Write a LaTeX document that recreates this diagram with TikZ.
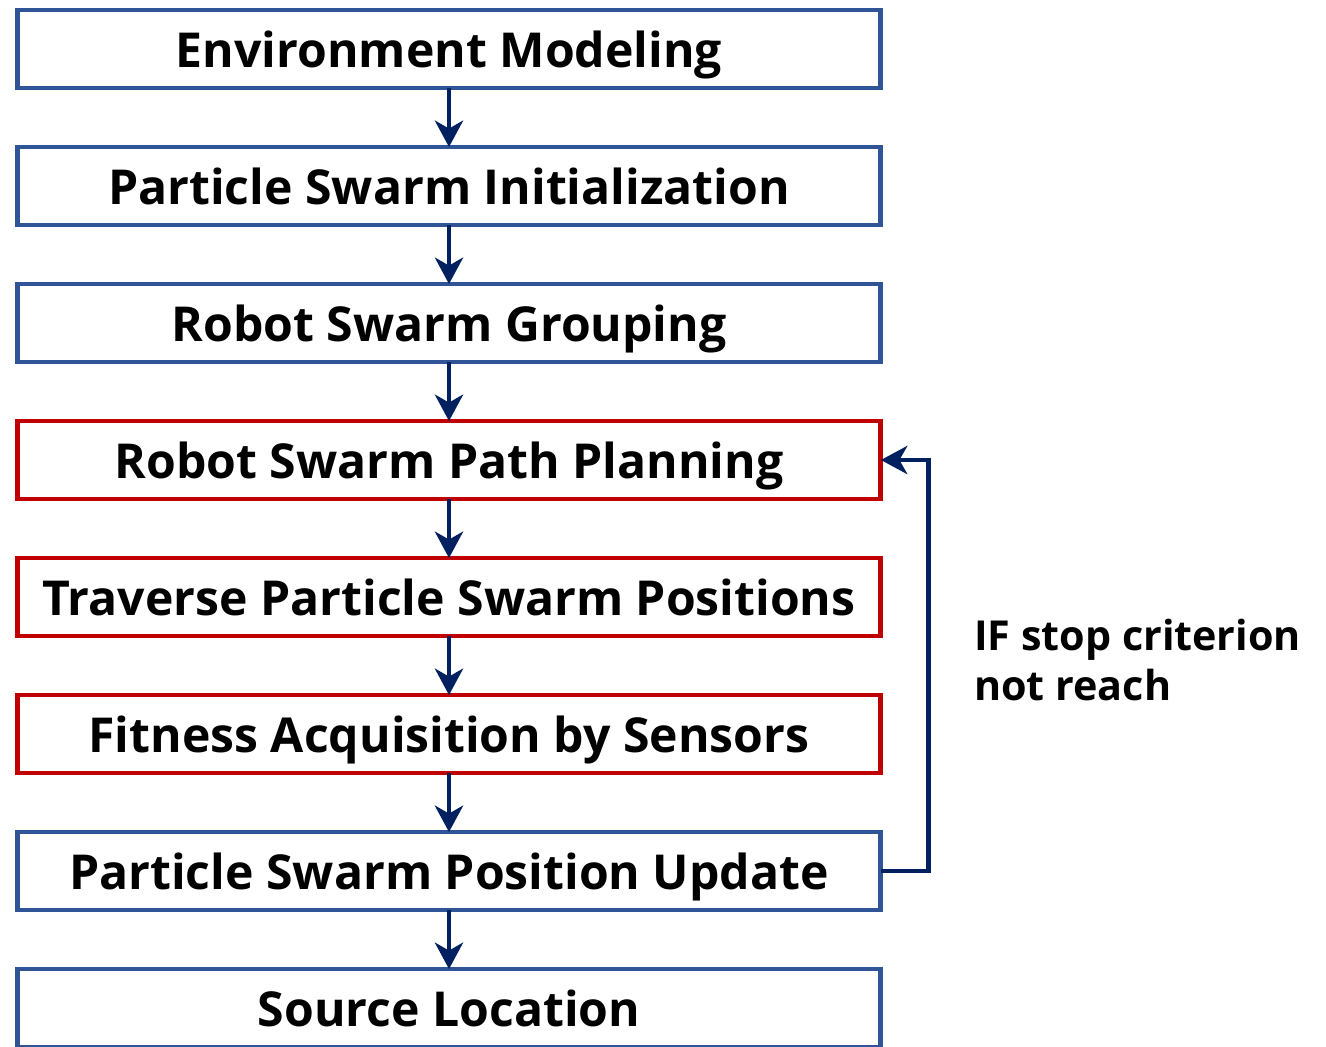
\documentclass[tikz,border=0pt]{standalone}
\usepackage{fontspec}
\setmainfont{Open Sans}
\usetikzlibrary{arrows.meta}
\definecolor{boxblue}{HTML}{2F5597}
\definecolor{boxred}{HTML}{C00000}
\definecolor{flownavy}{HTML}{002060}

\begin{document}
\begin{tikzpicture}[
    x=0.02cm, y=-0.02cm,
    font=\bfseries\fontsize{27.4}{33}\selectfont,
    stagebox/.style={draw=boxblue, line width=2.8pt, fill=white, minimum width=17.28cm,
      minimum height=1.56cm, inner sep=0pt, outer sep=0pt, text height=24pt, text depth=2.4pt},
    sensebox/.style={stagebox, draw=boxred},
    flow/.style={draw=flownavy, line width=2.8pt, -{Stealth[length=15pt, width=16pt, inset=4.5pt]}},
    loopnote/.style={font=\bfseries\fontsize{23.5}{28}\selectfont, align=left, anchor=west},
  ]

  % Page frame with the same proportions as the reference.
  \useasboundingbox (0,0) rectangle (1326,1046);

  % Preparation stages.
  \node[stagebox] (envmodel)  at (449,49)  {Environment Modeling};
  \node[stagebox] (swarminit) at (449,186) {Particle Swarm Initialization};
  \node[stagebox] (grouping)  at (449,323) {Robot Swarm Grouping};

  % Stages repeated inside the search loop.
  \node[sensebox] (pathplan)  at (449,460) {Robot Swarm Path Planning};
  \node[sensebox] (traverse)  at (449,597) {Traverse Particle Swarm Positions};
  \node[sensebox] (fitness)   at (449,734) {Fitness Acquisition by Sensors};

  \node[stagebox] (posupdate) at (449,871) {Particle Swarm Position Update};
  \node[stagebox] (srcloc)    at (449,1008) {Source Location};

  \draw[flow] (envmodel.south)  -- (swarminit.north);
  \draw[flow] (swarminit.south) -- (grouping.north);
  \draw[flow] (grouping.south)  -- (pathplan.north);
  \draw[flow] (pathplan.south)  -- (traverse.north);
  \draw[flow] (traverse.south)  -- (fitness.north);
  \draw[flow] (fitness.south)   -- (posupdate.north);
  \draw[flow] (posupdate.south) -- (srcloc.north);

  % Back to path planning until the stop criterion holds.
  \draw[flow] (posupdate.east) -- ++(48,0) |- (pathplan.east);
  \node[loopnote] (stopnote) at (968,660) {IF stop criterion\\not reach};
\end{tikzpicture}
\end{document}
